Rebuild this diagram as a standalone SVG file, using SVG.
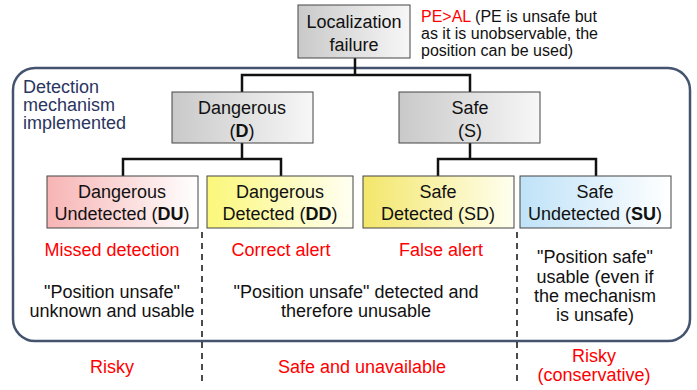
<svg xmlns="http://www.w3.org/2000/svg" width="697" height="390" viewBox="0 0 697 390">
<defs>
<linearGradient id="gGray" x1="0" y1="0" x2="1" y2="0"><stop offset="0" stop-color="#c9c9c9"/><stop offset="1" stop-color="#f7f7f7"/></linearGradient>
<linearGradient id="gPink" x1="0" y1="0" x2="1" y2="0"><stop offset="0" stop-color="#f7b4b4"/><stop offset="1" stop-color="#ffffff"/></linearGradient>
<linearGradient id="gYel" x1="0" y1="0" x2="1" y2="0"><stop offset="0" stop-color="#fbf77a"/><stop offset="1" stop-color="#fffff2"/></linearGradient>
<linearGradient id="gYel2" x1="0" y1="0" x2="1" y2="0"><stop offset="0" stop-color="#f3e66a"/><stop offset="1" stop-color="#fffff0"/></linearGradient>
<linearGradient id="gBlue" x1="0" y1="0" x2="1" y2="0"><stop offset="0" stop-color="#bfe2f8"/><stop offset="1" stop-color="#ffffff"/></linearGradient>
<style>
text{font-family:"Liberation Sans",Arial,sans-serif;font-size:18px;fill:#111}
.c{text-anchor:middle}
.r{fill:#ff0000}
.n{fill:#2a3560}
.s{font-size:16px}
.box{stroke:#444;stroke-width:1}
.ln{fill:none;stroke:#111;stroke-width:2.5}
.dash{fill:none;stroke:#111;stroke-width:1.5;stroke-dasharray:6 5}
</style>
</defs>
<rect id="frame" x="13" y="68" width="677" height="273" rx="22" fill="none" stroke="#44546e" stroke-width="2.5"/>
<text class="n" x="23" y="93">Detection</text>
<text class="n" x="23" y="111">mechanism</text>
<text class="n" x="23" y="129">implemented</text>
<g id="connectors">
<path class="ln" d="M355 58V75M242 92V75H470V92"/>
<path class="ln" d="M242 143V159M123 176V159H281V176"/>
<path class="ln" d="M470 143V159M438 176V159H596V176"/>
<path class="dash" d="M202 232V386M517 232V386"/>
</g>
<g id="n-root"><rect class="box" x="298" y="5" width="112" height="53" fill="url(#gGray)"/>
<text class="c" x="354" y="28">Localization</text><text class="c" x="354" y="51">failure</text></g>
<g id="note"><text class="s" x="421" y="22"><tspan class="r">PE&gt;AL</tspan> (PE is unsafe but</text>
<text class="s" x="421" y="39">as it is unobservable, the</text>
<text class="s" x="421" y="56">position can be used)</text></g>
<g id="n-D"><rect class="box" x="172" y="92" width="141" height="51" fill="url(#gGray)"/>
<text class="c" x="242" y="114">Dangerous</text><text class="c" x="242" y="137">(<tspan font-weight="bold">D</tspan>)</text></g>
<g id="n-S"><rect class="box" x="399" y="92" width="141" height="51" fill="url(#gGray)"/>
<text class="c" x="470" y="114">Safe</text><text class="c" x="470" y="137">(S)</text></g>
<g id="n-DU"><rect class="box" x="47" y="176" width="151" height="52" fill="url(#gPink)"/>
<text class="c" x="122" y="198">Dangerous</text><text class="c" x="122" y="220">Undetected (<tspan font-weight="bold">DU</tspan>)</text></g>
<g id="n-DD"><rect class="box" x="207" y="176" width="146" height="52" fill="url(#gYel)"/>
<text class="c" x="280" y="198">Dangerous</text><text class="c" x="280" y="220">Detected (<tspan font-weight="bold">DD</tspan>)</text></g>
<g id="n-SD"><rect class="box" x="363" y="176" width="151" height="52" fill="url(#gYel2)"/>
<text class="c" x="438" y="198">Safe</text><text class="c" x="438" y="220">Detected (SD)</text></g>
<g id="n-SU"><rect class="box" x="520" y="176" width="151" height="52" fill="url(#gBlue)"/>
<text class="c" x="595" y="198">Safe</text><text class="c" x="595" y="220">Undetected (<tspan font-weight="bold">SU</tspan>)</text></g>
<g id="labels">
<text class="c r" x="112" y="256">Missed detection</text>
<text class="c r" x="281" y="256">Correct alert</text>
<text class="c r" x="441" y="256">False alert</text>
<text class="c" x="112" y="298">"Position unsafe"</text>
<text class="c" x="112" y="317">unknown and usable</text>
<text class="c" x="356" y="298">"Position unsafe" detected and</text>
<text class="c" x="356" y="317">therefore unusable</text>
<text class="c" x="595" y="263">"Position safe"</text>
<text class="c" x="595" y="283">usable (even if</text>
<text class="c" x="595" y="302">the mechanism</text>
<text class="c" x="595" y="321">is unsafe)</text>
<text class="c r" x="112" y="373">Risky</text>
<text class="c r" x="362" y="373">Safe and unavailable</text>
<text class="c r" x="594" y="362">Risky</text>
<text class="c r" x="594" y="381">(conservative)</text>
</g>
</svg>
